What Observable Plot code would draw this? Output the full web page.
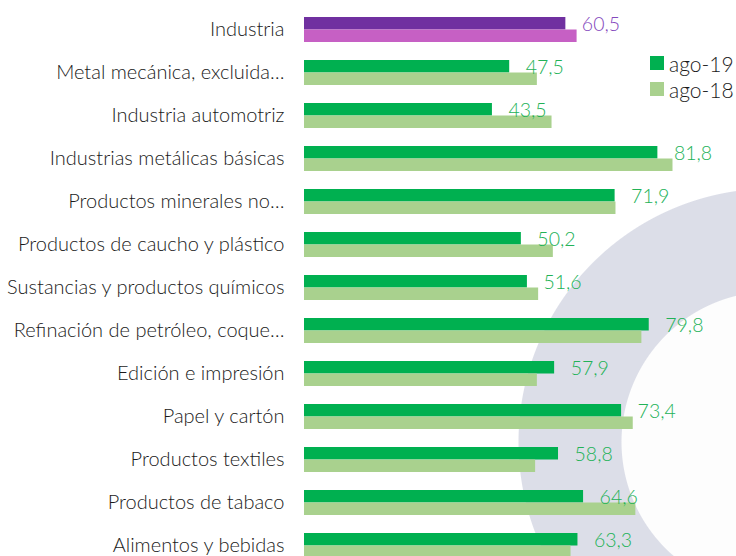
<!DOCTYPE html>
<html>
<head>
<meta charset="utf-8">
<script src="https://cdn.jsdelivr.net/npm/d3@7"></script>
<script src="https://cdn.jsdelivr.net/npm/@observablehq/plot@0.6"></script>
<style>
  html, body { margin: 0; padding: 0; background: #fff; }
  #wrap {
    position: relative; width: 736px; height: 556px; overflow: hidden;
    background: radial-gradient(circle at 772px 442px, #fdfdfd 0px, #fdfdfd 150px, #dcdee8 151px, #dcdee8 253px, #ffffff 254px);
    font-family: Lato, "Open Sans", sans-serif;
  }
  #legend { position: absolute; left: 650px; top: 50px; font-size: 21px; font-weight: 300; color: #1a1a1a; }
  #legend .row { display: flex; align-items: center; height: 26px; }
  #legend .sw { width: 14px; height: 14px; margin-right: 5px; }
</style>
</head>
<body>
<div id="wrap"><div id="legend"></div></div>
<script>
const categories = [
  "Industria",
  "Metal mecánica, excluida…",
  "Industria automotriz",
  "Industrias metálicas básicas",
  "Productos minerales no…",
  "Productos de caucho y plástico",
  "Sustancias y productos químicos",
  "Refinación de petróleo, coque…",
  "Edición e impresión",
  "Papel y cartón",
  "Productos textiles",
  "Productos de tabaco",
  "Alimentos y bebidas"
];
const ago19 = [60.5, 47.5, 43.5, 81.8, 71.9, 50.2, 51.6, 79.8, 57.9, 73.4, 58.8, 64.6, 63.3];
const ago18 = [63.1, 53.9, 57.3, 85.3, 72.1, 57.6, 54.2, 78.1, 53.9, 76.1, 53.5, 76.7, 61.7];
const seriesNames = ["ago-19", "ago-18"];

const colors = {
  total19: "#7030a0", total18: "#c660c4", totalLabel: "#8448bd",
  s19: "#00b050", s18: "#a9d18e", label: "#22b257"
};

const rows = categories.map((c, i) => ({cat: c, v19: ago19[i], v18: ago18[i], total: i === 0}));

const chart = Plot.plot({
  width: 736,
  height: 556,
  marginLeft: 304,
  marginRight: 0,
  marginTop: 0,
  marginBottom: 0,
  style: {background: "transparent", fontFamily: "Lato, 'Open Sans', sans-serif", overflow: "visible"},
  x: {domain: [0, 100], axis: null},
  y: {domain: categories, range: [-2, 576], padding: 0.42},
  marks: [
    Plot.axisY({tickSize: 0, tickPadding: 20, fontSize: 20, fontWeight: 300, fill: "#1a1a1a", label: null}),
    Plot.barX(rows, {x: "v19", y: "cat", insetBottom: 12.5,
      fill: d => d.total ? colors.total19 : colors.s19}),
    Plot.barX(rows, {x: "v18", y: "cat", insetTop: 12.5,
      fill: d => d.total ? colors.total18 : colors.s18}),
    Plot.text(rows, {x: "v19", y: "cat", text: d => d3.format(".1f")(d.v19).replace(".", ","),
      dx: 16, dy: -5, textAnchor: "start", fontSize: 19.5, fontWeight: 300,
      fill: d => d.total ? colors.totalLabel : colors.label})
  ]
});
document.getElementById("wrap").appendChild(chart);

const legend = document.getElementById("legend");
[[seriesNames[0], colors.s19], [seriesNames[1], colors.s18]].forEach(([name, col]) => {
  const r = document.createElement("div");
  r.className = "row";
  r.innerHTML = `<div class="sw" style="background:${col}"></div><span>${name}</span>`;
  legend.appendChild(r);
});
</script>
</body>
</html>
